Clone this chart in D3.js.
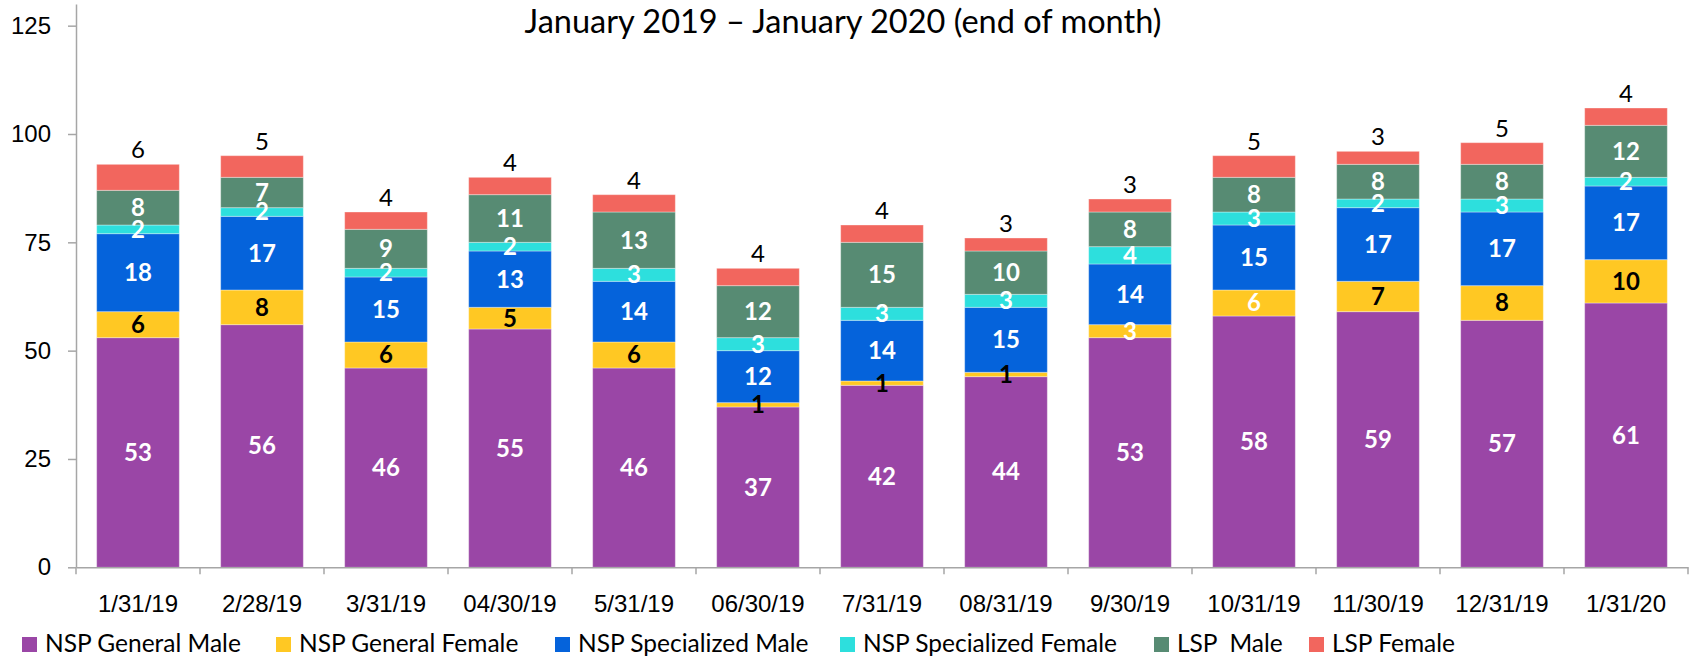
<!DOCTYPE html>
<html>
<head>
<meta charset="utf-8">
<script src="https://cdn.jsdelivr.net/npm/d3@7"></script>
<style>
  html, body { margin: 0; padding: 0; background: #fff; }
  svg { display: block; font-family: Lato, "Liberation Sans", sans-serif; }
  .axis path, .axis line { stroke: #a6a6a6; stroke-width: 1.5; }
  .axis text { fill: #000; font-size: 24px; }
</style>
</head>
<body>
<div id="chart"></div>
<script>
const categories = ['1/31/19', '2/28/19', '3/31/19', '04/30/19', '5/31/19', '06/30/19', '7/31/19',
  '08/31/19', '9/30/19', '10/31/19', '11/30/19', '12/31/19', '1/31/20'];

const seriesNames = ['NSP General Male', 'NSP General Female', 'NSP Specialized Male',
  'NSP Specialized Female', 'LSP  Male', 'LSP Female'];

const nspGeneralMale        = [53, 56, 46, 55, 46, 37, 42, 44, 53, 58, 59, 57, 61];
const nspGeneralFemale      = [6, 8, 6, 5, 6, 1, 1, 1, 3, 6, 7, 8, 10];
const nspSpecializedMale    = [18, 17, 15, 13, 14, 12, 14, 15, 14, 15, 17, 17, 17];
const nspSpecializedFemale  = [2, 2, 2, 2, 3, 3, 3, 3, 4, 3, 2, 3, 2];
const lspMale               = [8, 7, 9, 11, 13, 12, 15, 10, 8, 8, 8, 8, 12];
const lspFemale             = [6, 5, 4, 4, 4, 4, 4, 3, 3, 5, 3, 5, 4];

const yTicks = [0, 25, 50, 75, 100, 125];

// labels of "NSP General Female" that are drawn in white in the original
const whiteGenFemale = ['9/30/19', '10/31/19'];

const colors = ['#9a46a6', '#ffc823', '#0563db', '#2ddfdd', '#578b73', '#f2665e'];

const W = 1698, H = 661;
const x0 = 76, x1 = 1688;
const yBottom = 567.3;
const legendX = [22, 276, 555, 840, 1154, 1309];

const allSeries = [nspGeneralMale, nspGeneralFemale, nspSpecializedMale,
  nspSpecializedFemale, lspMale, lspFemale];

const table = categories.map((c, i) => {
  const row = { cat: c };
  seriesNames.forEach((s, j) => { row[s] = allSeries[j][i]; });
  return row;
});

const stack = d3.stack().keys(seriesNames);
const layers = stack(table);

const svg = d3.select('#chart').append('svg')
  .attr('width', W).attr('height', H);

const xAxisScale = d3.scaleBand().domain(categories).range([x0, x1]).padding(0);
const x = d3.scaleBand().domain(categories).range([x0, x1])
  .paddingInner(1 / 3).paddingOuter(1 / 6);
const y = d3.scaleLinear().domain([0, 130]).range([yBottom, yBottom - 130 * 4.333]);

// title
svg.append('text')
  .attr('x', 843).attr('y', 33)
  .attr('text-anchor', 'middle')
  .style('font-size', '32.5px')
  .text('January 2019 \u2013 January 2020 (end of month)');

// bars
const layer = svg.selectAll('.layer')
  .data(layers)
  .enter().append('g')
  .attr('class', 'layer')
  .attr('fill', (d, i) => colors[i]);

layer.selectAll('rect')
  .data(d => d)
  .enter().append('rect')
  .attr('x', d => x(d.data.cat))
  .attr('width', x.bandwidth())
  .attr('y', d => y(d[1]))
  .attr('height', d => y(d[0]) - y(d[1]))
  .attr('stroke', 'rgba(255,255,255,0.35)')
  .attr('stroke-width', 1);

// value labels
layers.forEach((ly, i) => {
  const key = ly.key;
  const g = svg.append('g').attr('class', 'labels');
  g.selectAll('text')
    .data(ly)
    .enter().append('text')
    .attr('x', d => x(d.data.cat) + x.bandwidth() / 2)
    .attr('y', d => {
      if (i === 5) return y(d[1]) - 6;
      return (y(d[0]) + y(d[1])) / 2;
    })
    .attr('dy', i === 5 ? 0 : '0.35em')
    .attr('text-anchor', 'middle')
    .style('font-size', '24px')
    .style('font-weight', i === 5 ? 'normal' : 'bold')
    .style('fill', d => {
      if (i === 5) return '#000';
      if (i === 1) return whiteGenFemale.includes(d.data.cat) ? '#fff' : '#000';
      return '#fff';
    })
    .text(d => d.data[key]);
});

// y axis
svg.append('g')
  .attr('class', 'axis')
  .attr('transform', `translate(${x0},0)`)
  .call(d3.axisLeft(y).tickValues(yTicks).tickSize(8).tickPadding(17).tickSizeOuter(0));

// x axis
const xAxis = svg.append('g')
  .attr('class', 'axis')
  .attr('transform', `translate(0,${yBottom})`)
  .call(d3.axisBottom(xAxisScale).tickSize(0).tickPadding(28).tickSizeOuter(0));

// separator tick marks between categories
xAxis.selectAll('.sep')
  .data(categories.concat(['__end']))
  .enter().append('line')
  .attr('class', 'sep')
  .attr('x1', (d, i) => i < categories.length ? xAxisScale(d) : x1)
  .attr('x2', (d, i) => i < categories.length ? xAxisScale(d) : x1)
  .attr('y1', 0).attr('y2', 7);

// legend
const legend = svg.append('g').attr('class', 'legend');
seriesNames.forEach((s, i) => {
  const item = legend.append('g').attr('transform', `translate(${legendX[i]},637)`);
  item.append('rect')
    .attr('width', 15).attr('height', 15)
    .attr('fill', colors[i]);
  item.append('text')
    .attr('x', 23).attr('y', 15)
    .style('font-size', '24.5px')
    .style('white-space', 'pre')
    .attr('xml:space', 'preserve')
    .text(s);
});
</script>
</body>
</html>
